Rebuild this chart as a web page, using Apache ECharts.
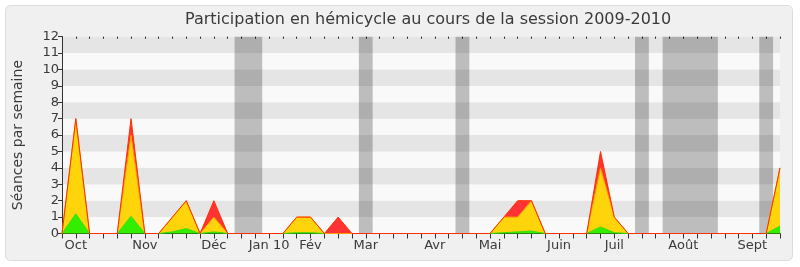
<!DOCTYPE html>
<html>
<head>
<meta charset="utf-8">
<script src="https://cdn.jsdelivr.net/npm/echarts@6/dist/echarts.min.js"></script>
<style>
html,body{margin:0;padding:0;background:#fff;}
#c{width:800px;height:267px;}
</style>
</head>
<body>
<div id="c"></div>
<script>
// Week indices (0 = first week of the session)
var weeks = [];
for (var k = 0; k <= 52; k++) weeks.push(String(k));

// Month labels placed at week indices
var monthWeeks  = [1, 6, 11, 15, 18, 22, 27, 31, 36, 40, 45, 50];
var monthNames  = ['Oct', 'Nov', 'Déc', 'Jan 10', 'Fév', 'Mar', 'Avr', 'Mai', 'Juin', 'Juil', 'Août', 'Sept'];

// Stacked values per week
var green  = [0,1.2,0,0,0,1.05,0,0,0.1,0.3,0,0.1,0,0,0,0,0,0.05,0.05,0,0,0,0,0,0,0,0,0,0,0,0,0,0.05,0.1,0.15,0,0,0,0,0.4,0.05,0,0,0,0,0,0,0,0,0,0,0,0.45];
var yellow = [0,5.8,0,0,0,4.95,0,0,0.9,1.7,0,0.9,0,0,0,0,0,0.95,0.95,0,0,0,0,0,0,0,0,0,0,0,0,0,0.95,0.9,1.85,0,0,0,0,3.6,0.95,0,0,0,0,0,0,0,0,0,0,0,3.55];
var red    = [0,0,0,0,0,1,0,0,0,0,0,1,0,0,0,0,0,0,0,0,1,0,0,0,0,0,0,0,0,0,0,0,0,1,0,0,0,0,0,1,0,0,0,0,0,0,0,0,0,0,0,0,0];

// Vacation periods (in weeks)
var vacations = [[12.5,14.5],[21.5,22.5],[28.5,29.5],[41.5,42.5],[43.5,47.5],[50.5,51.5]];

var yTicks = [0,1,2,3,4,5,6,7,8,9,10,11,12];

var chart = echarts.init(document.getElementById('c'), null, {renderer:'canvas'});
var font = 'DejaVu Sans';
var txt = '#3a3a3a';

chart.setOption({
  animation: false,
  backgroundColor: '#ffffff',
  textStyle: {fontFamily: font},
  graphic: [{
    type: 'rect', z: -10, silent: true,
    shape: {x: 5.5, y: 5.5, width: 787, height: 255, r: 5},
    style: {fill: '#f0f0f0', stroke: '#dcdcdc', lineWidth: 1}
  }],
  title: {
    text: 'Participation en hémicycle au cours de la session 2009-2010',
    left: 180, top: 7,
    textStyle: {fontFamily: font, fontSize: 16, fontWeight: 'normal', color: txt}
  },
  grid: {left: 62, right: 20, top: 36.7, bottom: 33.5, containLabel: false},
  xAxis: [{
    type: 'category', data: weeks, boundaryGap: false,
    axisLine: {show: true, lineStyle: {color: '#2a1a10', width: 1}},
    axisTick: {show: true, interval: 0, length: 5, lineStyle: {color: '#333'}},
    axisLabel: {
      show: true, fontSize: 13, color: txt, margin: 6,
      interval: function(index){ return monthWeeks.indexOf(index) >= 0; },
      formatter: function(v, index){ var i = monthWeeks.indexOf(Number(v)); return i >= 0 ? monthNames[i] : ''; }
    },
    splitLine: {show: false}
  }, {
    type: 'category', data: weeks, boundaryGap: false, position: 'top',
    axisLine: {show: false},
    axisTick: {show: true, inside: true, interval: 0, length: 2, lineStyle: {color: '#222'}},
    axisLabel: {show: false},
    splitLine: {show: false}
  }, {
    type: 'value', min: 0, max: 52, show: false
  }],
  yAxis: {
    type: 'value', min: 0, max: 12, interval: 1,
    name: 'Séances par semaine', nameLocation: 'middle', nameGap: 37,
    nameTextStyle: {fontFamily: font, fontSize: 14, color: txt},
    axisLine: {show: true, lineStyle: {color: '#333'}},
    axisTick: {show: true, length: 4, lineStyle: {color: '#333'}},
    axisLabel: {fontSize: 13, color: txt, margin: 3, formatter: function(v){ return yTicks.indexOf(v) >= 0 ? String(v) : ''; }},
    splitLine: {show: false},
    splitArea: {show: true, areaStyle: {color: ['#f9f9f9', '#e5e5e5']}}
  },
  series: [{
    type: 'line', data: [], silent: true, xAxisIndex: 2,
    markArea: {
      silent: true,
      itemStyle: {color: 'rgba(0,0,0,0.24)'},
      data: vacations.map(function(v){ return [{xAxis: v[0]}, {xAxis: v[1]}]; })
    }
  }, {
    name: 'green', type: 'line', stack: 's', data: green, symbol: 'none',
    lineStyle: {color: '#33dd00', width: 1}, areaStyle: {color: '#33ee00', opacity: 1}, z: 3
  }, {
    name: 'yellow', type: 'line', stack: 's', data: yellow, symbol: 'none',
    lineStyle: {color: '#ff9a00', width: 1}, areaStyle: {color: '#ffd40a', opacity: 1}, z: 3
  }, {
    name: 'red', type: 'line', stack: 's', data: red, symbol: 'none',
    lineStyle: {color: '#ff3000', width: 1}, areaStyle: {color: '#ff3333', opacity: 1}, z: 3
  }]
});
</script>
</body>
</html>
